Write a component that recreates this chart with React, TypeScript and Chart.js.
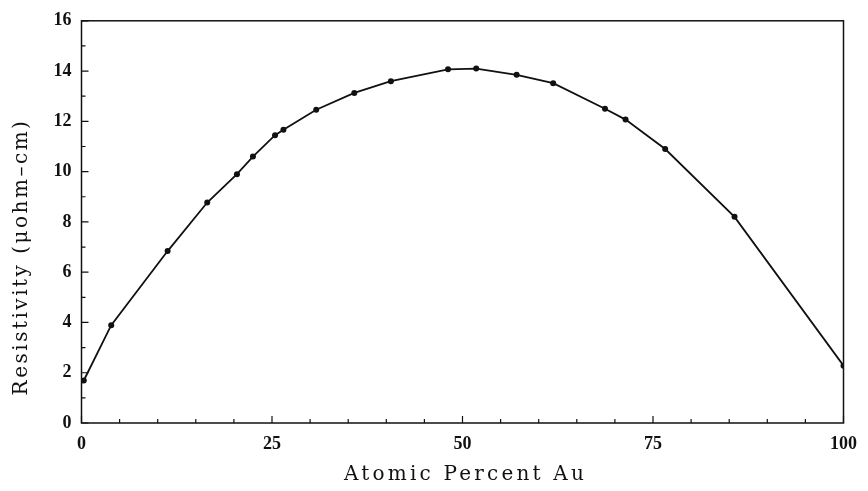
import React, { useEffect, useRef } from "react";
import { Chart, registerables } from "chart.js";

Chart.register(...registerables);

// Atomic percent Au and measured resistivity (µohm-cm)
const atomicPercentAu = [0.3, 3.9, 11.3, 16.5, 20.4, 22.5, 25.4, 26.5, 30.8, 35.8, 40.6, 48.1, 51.8, 57.1, 61.9, 68.7, 71.4, 76.6, 85.7, 100];
const resistivity = [1.69, 3.89, 6.84, 8.77, 9.9, 10.6, 11.45, 11.67, 12.46, 13.13, 13.6, 14.07, 14.1, 13.85, 13.52, 12.5, 12.07, 10.9, 8.2, 2.28];

const xTickValues = [0, 25, 50, 75, 100];
const yTickValues = [0, 2, 4, 6, 8, 10, 12, 14, 16];
const xMinorStep = 5;
const yMinorStep = 1;

const xTitle = "Atomic Percent Au";
const yTitle = "Resistivity (\u03bcohm\u2013cm)";

const SERIF = "'Liberation Serif', 'DejaVu Serif', serif";
const TITLE_SERIF = "'DejaVu Serif', serif";

// Frame, inward tick marks and spaced-out axis titles
const framePlugin = {
  id: "frame",
  afterDraw(chart: any) {
    const { ctx, chartArea } = chart;
    const xs = chart.scales.x;
    const ys = chart.scales.y;
    const { left, right, top, bottom } = chartArea;
    ctx.save();
    ctx.strokeStyle = "#111";
    ctx.lineWidth = 1.5;
    ctx.strokeRect(left, top, right - left, bottom - top);

    ctx.lineWidth = 1.2;
    ctx.beginPath();
    for (let v = xs.min; v <= xs.max + 1e-9; v += xMinorStep) {
      const px = xs.getPixelForValue(v);
      const len = xTickValues.includes(v) ? 7 : 4;
      ctx.moveTo(px, bottom);
      ctx.lineTo(px, bottom - len);
    }
    for (let v = ys.min; v <= ys.max + 1e-9; v += yMinorStep) {
      const py = ys.getPixelForValue(v);
      const len = yTickValues.includes(v) ? 7 : 4;
      ctx.moveTo(left, py);
      ctx.lineTo(left + len, py);
    }
    ctx.stroke();

    ctx.fillStyle = "#111";
    ctx.font = `20px ${TITLE_SERIF}`;
    ctx.textAlign = "center";
    ctx.textBaseline = "middle";
    (ctx as any).letterSpacing = "3.2px";
    ctx.fillText(xTitle, (left + right) / 2 + 3, 475);

    (ctx as any).letterSpacing = "2.5px";
    ctx.translate(22, 257);
    ctx.rotate(-Math.PI / 2);
    ctx.fillText(yTitle, 0, 0);
    ctx.restore();
  },
};

export default function App() {
  const canvasRef = useRef<HTMLCanvasElement | null>(null);

  useEffect(() => {
    if (!canvasRef.current) return;
    const chart = new Chart(canvasRef.current, {
      type: "line",
      data: {
        datasets: [
          {
            data: atomicPercentAu.map((x, i) => ({ x, y: resistivity[i] })),
            borderColor: "#111",
            backgroundColor: "#111",
            borderWidth: 1.8,
            pointRadius: 3,
            pointBorderWidth: 0,
            tension: 0,
            fill: false,
          },
        ],
      },
      options: {
        animation: false,
        responsive: false,
        devicePixelRatio: 1,
        layout: { padding: { top: 16, right: 18, left: 0, bottom: 0 } },
        plugins: { legend: { display: false }, tooltip: { enabled: false } },
        scales: {
          x: {
            type: "linear",
            min: 0,
            max: 100,
            afterFit: (s: any) => {
              s.height = 68;
            },
            afterBuildTicks: (s: any) => {
              s.ticks = xTickValues.map((value) => ({ value }));
            },
            grid: { display: false, drawTicks: false },
            border: { display: false },
            ticks: {
              color: "#111",
              padding: 11,
              maxRotation: 0,
              font: { family: SERIF, size: 18, weight: "bold" },
            },
          },
          y: {
            type: "linear",
            min: 0,
            max: 16,
            afterFit: (s: any) => {
              s.width = 81.5;
            },
            afterBuildTicks: (s: any) => {
              s.ticks = yTickValues.map((value) => ({ value }));
            },
            grid: { display: false, drawTicks: false },
            border: { display: false },
            ticks: {
              color: "#111",
              padding: 10,
              font: { family: SERIF, size: 18, weight: "bold" },
            },
          },
        },
      },
      plugins: [framePlugin],
    });
    return () => chart.destroy();
  }, []);

  return (
    <div style={{ position: "fixed", left: 0, top: 0, width: 868, height: 491, background: "#fff" }}>
      <canvas ref={canvasRef} width={868} height={491} />
    </div>
  );
}
